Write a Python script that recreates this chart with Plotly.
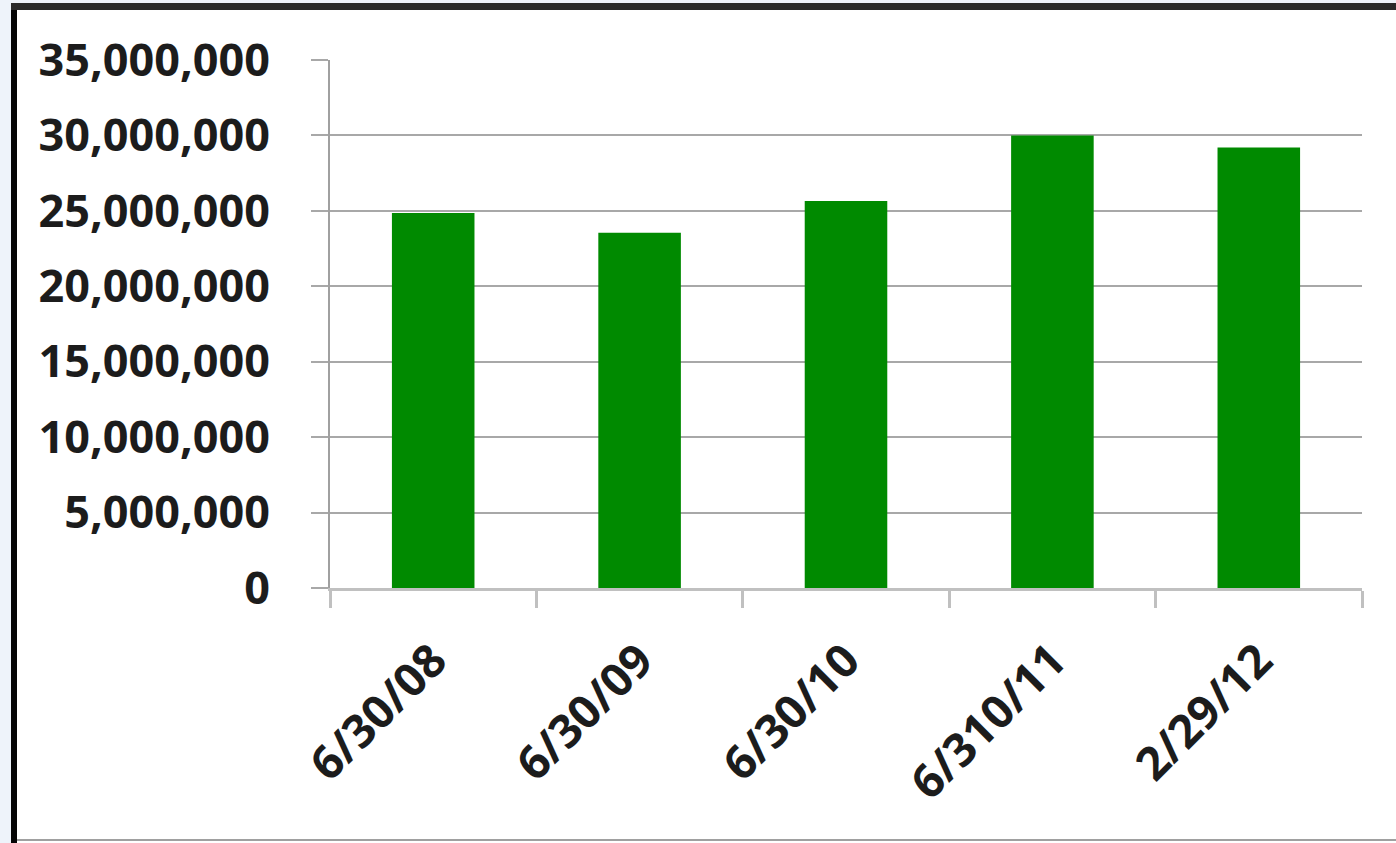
import plotly.graph_objects as go

# Reporting dates and the totals recorded on each
dates = ["6/30/08", "6/30/09", "6/30/10", "6/310/11", "2/29/12"]
totals = [24_850_000, 23_550_000, 25_650_000, 30_000_000, 29_200_000]
y_ticks = [0, 5_000_000, 10_000_000, 15_000_000, 20_000_000, 25_000_000, 30_000_000, 35_000_000]
y_tick_text = ["0", "5,000,000", "10,000,000", "15,000,000", "20,000,000",
               "25,000,000", "30,000,000", "35,000,000"]

W, H = 1396, 843
L, R, T, B = 330, 34, 60, 255
PW, PH = W - L - R, H - T - B

BAR = "#008a00"
TEXT = "#1c1c1c"
GRID = "#a8a8a8"
Y_FONT = dict(family="Open Sans", size=45, color=TEXT, weight="bold")
X_FONT = dict(family="Open Sans", size=46, color=TEXT, weight="bold")


def px_x(x):
    return (x - L) / PW


def px_y(y):
    return (H - B - y) / PH


fig = go.Figure(go.Bar(x=dates, y=totals, marker=dict(color=BAR, line=dict(width=0)), width=0.40))

frame = [
    # pale strip outside the frame
    dict(x0=0, x1=11, y0=0, y1=H, color="#eef3fa"),
    dict(x0=0, x1=W, y0=0, y1=3, color="#eef3fa"),
    # dark frame on the left and top
    dict(x0=11, x1=17, y0=3, y1=H, color="#050505"),
    dict(x0=11, x1=W, y0=3, y1=10, color="#2a2a2a"),
    # thin line along the bottom
    dict(x0=17, x1=W, y0=839, y1=841, color="#a0a0a0"),
]
shapes = [
    dict(type="rect", xref="paper", yref="paper",
         x0=px_x(s["x0"]), x1=px_x(s["x1"]), y0=px_y(s["y1"]), y1=px_y(s["y0"]),
         fillcolor=s["color"], line=dict(width=0), layer="above")
    for s in frame
]

fig.update_layout(
    width=W, height=H,
    margin=dict(l=L, r=R, t=T, b=B, pad=0),
    paper_bgcolor="white", plot_bgcolor="white",
    showlegend=False,
    shapes=shapes,
    xaxis=dict(
        type="category",
        tickangle=-45,
        tickfont=X_FONT,
        showgrid=False,
        showline=True, linecolor="#c0c0c0", linewidth=3,
        ticks="outside", tickson="boundaries", ticklen=17, tickwidth=3, tickcolor="#c0c0c0",
        ticklabelstandoff=24,
        range=[-0.5, 4.5],
    ),
    yaxis=dict(
        range=[0, 35_000_000],
        tickmode="array", tickvals=y_ticks, ticktext=y_tick_text,
        tickfont=Y_FONT,
        showgrid=True, gridcolor=GRID, gridwidth=2,
        showline=True, linecolor="#a0a0a0", linewidth=2,
        ticks="outside", ticklen=17, tickwidth=2, tickcolor=GRID,
        ticklabelstandoff=32,
        zeroline=False,
    ),
)

fig.write_html("out.html")
